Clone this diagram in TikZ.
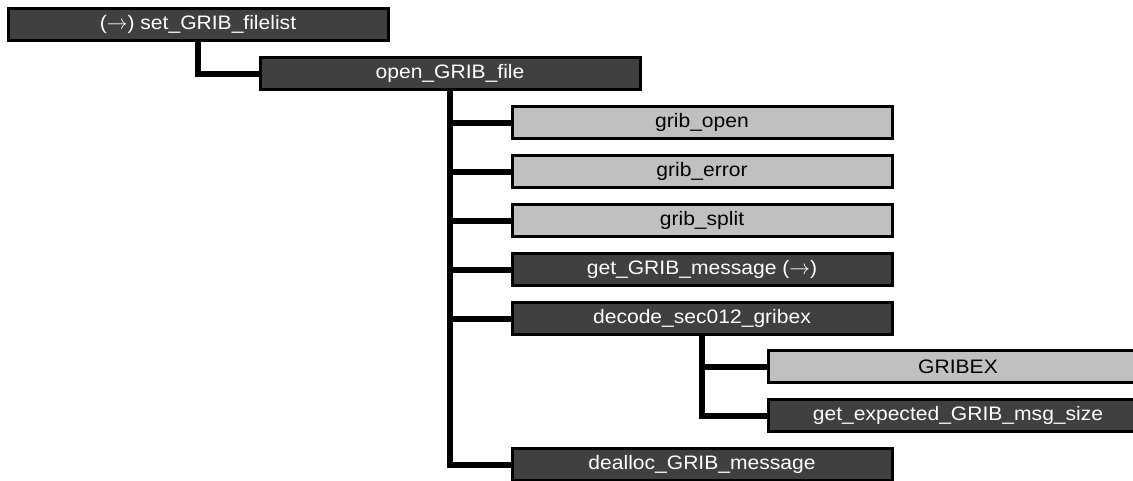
\documentclass[tikz,border=0pt]{standalone}
\usepackage{fontspec}
\setmainfont{Liberation Sans}[FakeStretch=1.08]
\definecolor{darkbox}{HTML}{404040}
\definecolor{lightbox}{HTML}{C0C0C0}
\begin{document}
\begin{tikzpicture}[x=1pt,y=-1pt,
  box/.style={draw=black,line width=3pt,minimum width=380pt,minimum height=32pt,inner sep=0pt,
    font=\fontsize{19.5}{22}\selectfont,anchor=center},
  darkb/.style={box,fill=darkbox,text=white},
  lightb/.style={box,fill=lightbox,text=black},
  link/.style={line width=6pt,line join=miter,draw=black}]
\useasboundingbox (0,0) rectangle (1133,480);
\fill[white] (0,0) rectangle (1133,480);
% nodes
\node[darkb]  (set)   at (198,24.5)  {($\rightarrow$) set\_GRIB\_filelist};
\node[darkb]  (open)  at (450,73.5)  {open\_GRIB\_file};
\node[lightb] (gopen) at (702,122.5) {grib\_open};
\node[lightb] (gerr)  at (702,171.5) {grib\_error};
\node[lightb] (gsplit) at (702,220.5) {grib\_split};
\node[darkb]  (getmsg) at (702,269.5) {get\_GRIB\_message ($\rightarrow$)};
\node[darkb]  (decode) at (702,318.5) {decode\_sec012\_gribex};
\node[lightb] (gribex) at (958,366.5) {GRIBEX};
\node[darkb]  (expsize) at (958,415.5) {get\_expected\_GRIB\_msg\_size};
\node[darkb]  (dealloc) at (702,464.5) {dealloc\_GRIB\_message};
% connectors
\draw[link] (set.south) |- (open.west);
\draw[link] (open.south) |- (gopen.west);
\draw[link] (open.south) |- (gerr.west);
\draw[link] (open.south) |- (gsplit.west);
\draw[link] (open.south) |- (getmsg.west);
\draw[link] (open.south) |- (decode.west);
\draw[link] (open.south) |- (dealloc.west);
\draw[link] (decode.south) |- (gribex.west);
\draw[link] (decode.south) |- (expsize.west);
\end{tikzpicture}
\end{document}
